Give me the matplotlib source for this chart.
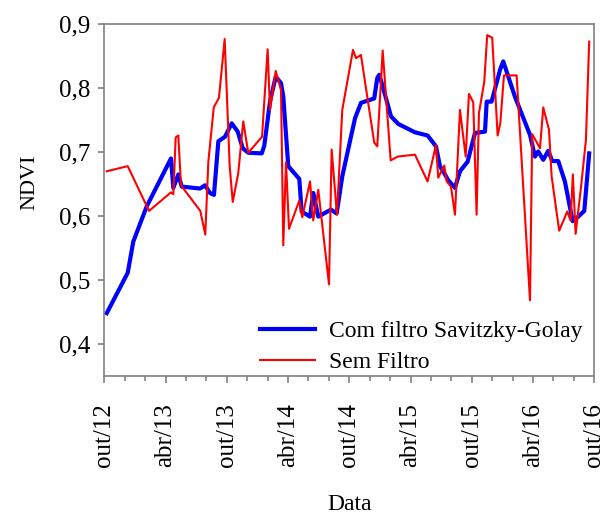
import matplotlib
matplotlib.use('Agg')
import matplotlib.pyplot as plt
from matplotlib.ticker import MultipleLocator, FuncFormatter

# meses desde out/2012
meses_sf = [0.24, 2.29, 4.38, 6.53, 6.76, 6.99, 7.25, 7.51, 9.40, 9.89, 10.19, 10.72,
            11.23, 11.79, 12.28, 12.58, 13.12, 13.61, 14.10, 15.45, 16.00, 16.23,
            16.79, 17.31, 17.53, 17.80, 18.09, 19.10, 19.39, 20.15, 20.47, 20.96,
            22.01, 22.27, 22.79, 23.31, 24.36, 24.66, 25.14, 26.44, 26.74, 27.27,
            28.05, 28.74, 30.43, 31.67, 32.49, 32.71, 33.30, 33.54, 33.96, 34.35,
            34.84, 35.40, 35.72, 36.14, 36.47, 36.70, 37.22, 37.51, 38.00, 38.53,
            38.79, 39.15, 40.39, 41.70, 41.92, 42.68, 43.00, 43.56, 43.82, 44.56,
            45.35, 45.68, 45.90, 46.17, 46.69, 47.18, 47.50]
ndvi_sf = [0.670, 0.678, 0.608, 0.637, 0.634, 0.723, 0.726, 0.648, 0.608, 0.571, 0.685, 0.770,
           0.785, 0.877, 0.678, 0.622, 0.667, 0.748, 0.699, 0.724, 0.861, 0.766,
           0.827, 0.797, 0.554, 0.684, 0.580, 0.624, 0.598, 0.654, 0.593, 0.641,
           0.493, 0.704, 0.602, 0.766, 0.860, 0.847, 0.852, 0.715, 0.709, 0.859,
           0.687, 0.693, 0.696, 0.654, 0.711, 0.660, 0.679, 0.654, 0.646, 0.602,
           0.766, 0.693, 0.791, 0.778, 0.602, 0.761, 0.810, 0.883, 0.879, 0.726,
           0.745, 0.820, 0.820, 0.468, 0.728, 0.706, 0.770, 0.735, 0.662, 0.577,
           0.607, 0.593, 0.665, 0.572, 0.644, 0.719, 0.873]

meses_sg = [0.24, 2.29, 2.84, 4.15, 6.53, 6.76, 7.25, 7.58, 9.37, 9.86, 10.35, 10.74,
            11.17, 11.82, 12.48, 13.07, 13.56, 14.10, 15.42, 15.67, 16.23, 16.79,
            17.31, 17.53, 18.02, 19.10, 19.33, 20.15, 20.47, 20.96, 22.20, 22.76,
            23.31, 24.56, 25.14, 26.44, 26.74, 26.93, 27.27, 28.08, 28.80, 30.43,
            31.67, 32.49, 32.88, 33.30, 33.69, 34.35, 34.84, 35.59, 36.31, 37.29,
            37.46, 37.94, 38.77, 39.08, 40.22, 41.70, 42.19, 42.51, 43.00, 43.49,
            43.88, 44.47, 45.12, 45.88, 46.43, 47.02, 47.50]
ndvi_sg = [0.448, 0.511, 0.560, 0.615, 0.690, 0.644, 0.665, 0.646, 0.643, 0.648, 0.636, 0.633,
           0.717, 0.724, 0.745, 0.732, 0.706, 0.699, 0.698, 0.710, 0.779, 0.818,
           0.808, 0.787, 0.678, 0.658, 0.607, 0.599, 0.636, 0.599, 0.610, 0.604,
           0.662, 0.753, 0.777, 0.784, 0.816, 0.821, 0.803, 0.756, 0.744, 0.731,
           0.726, 0.709, 0.678, 0.667, 0.656, 0.644, 0.670, 0.685, 0.730, 0.732,
           0.779, 0.779, 0.829, 0.842, 0.787, 0.727, 0.693, 0.701, 0.688, 0.702,
           0.686, 0.686, 0.654, 0.592, 0.599, 0.608, 0.698]

rotulos_x = ['out/12', 'abr/13', 'out/13', 'abr/14', 'out/14', 'abr/15', 'out/15', 'abr/16', 'out/16']

plt.rcParams['font.family'] = 'Liberation Serif'
plt.rcParams['font.size'] = 18

fig = plt.figure(figsize=(6.02, 5.14), dpi=100)
ax = fig.add_axes([0.1733, 0.269, 0.8139, 0.6837])

ax.plot(meses_sg, ndvi_sg, color='#0000FF', lw=3, label='Com filtro Savitzky-Golay')
ax.plot(meses_sf, ndvi_sf, color='#FF0000', lw=1.5, label='Sem Filtro')

ax.set_xlim(0, 48)
ax.set_ylim(0.35, 0.9)
ax.xaxis.set_minor_locator(MultipleLocator(2))
ax.set_xticks(range(0, 49, 6))
ax.set_xticklabels(rotulos_x, rotation=90)
ax.yaxis.set_major_locator(MultipleLocator(0.1))
ax.yaxis.set_major_formatter(FuncFormatter(lambda v, p: f'{v:.1f}'.replace('.', ',')))

for s in ax.spines.values():
    s.set_color('#808080')
    s.set_linewidth(1.2)
ax.tick_params(axis='both', which='both', colors='#808080', labelcolor='black', direction='out')
ax.tick_params(axis='x', which='major', length=5, width=1.2, pad=15)
ax.tick_params(axis='x', which='minor', length=3.5, width=1.2)
ax.tick_params(axis='y', which='major', length=4, width=1.2, pad=6)

ax.set_xlabel('Data', labelpad=19.5, fontsize=17)
ax.set_ylabel('NDVI', fontsize=16)
ax.yaxis.set_label_coords(-0.133, 0.551)

ax.legend(loc='lower right', frameon=False, handlelength=2.3, handletextpad=0.6,
          labelspacing=0.4, borderaxespad=0, borderpad=0.2, fontsize=17,
          bbox_to_anchor=(0.985, -0.006))

fig.savefig('out.png', dpi=100)
